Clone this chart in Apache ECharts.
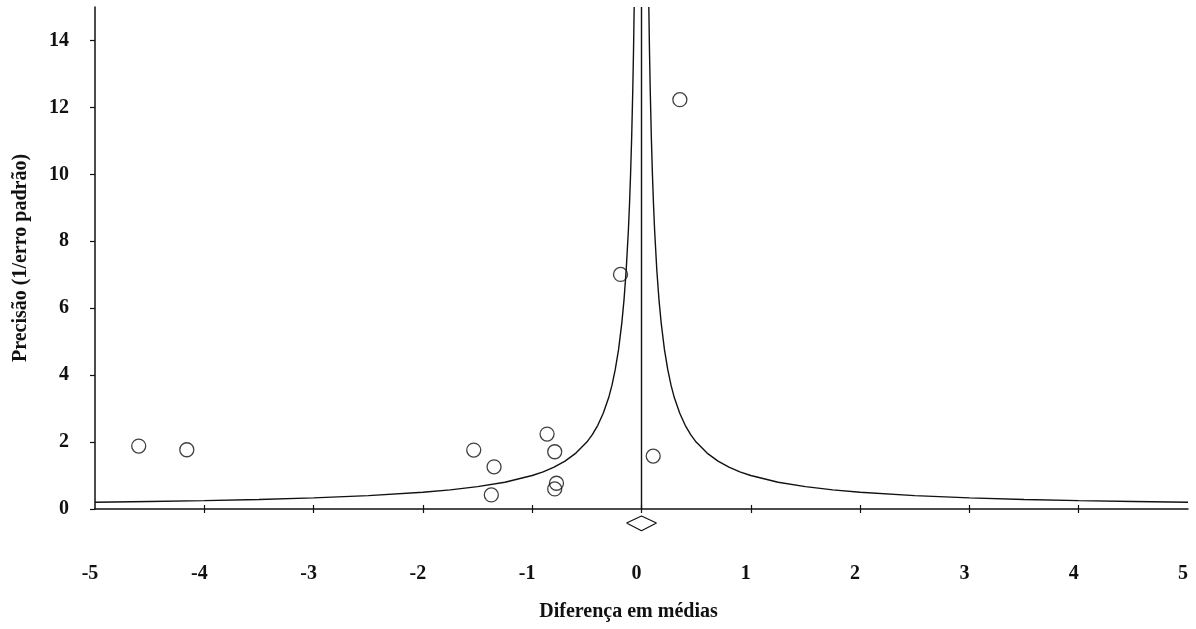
<!DOCTYPE html>
<html>
<head>
<meta charset="utf-8">
<script src="https://cdn.jsdelivr.net/npm/echarts@6/dist/echarts.min.js"></script>
<style>
html,body{margin:0;padding:0;background:#fff;}
#chart{width:1196px;height:629px;}
</style>
</head>
<body>
<div id="chart"></div>
<script>
// ---- data ----
const xTickValues = [-5, -4, -3, -2, -1, 0, 1, 2, 3, 4, 5];
const xInnerTicks = [-4, -3, -2, -1, 0, 1, 2, 3, 4];
const yTickValues = [0, 2, 4, 6, 8, 10, 12, 14];

// studies: difference in means and precision (1/standard error)
const studyDiff = [-4.60, -4.16, -1.535, -1.349, -1.374, -0.864, -0.794, -0.778, -0.794, 0.107, -0.192, 0.351];
const studyPrecision = [1.88, 1.77, 1.76, 1.26, 0.42, 2.24, 1.71, 0.77, 0.60, 1.58, 7.01, 12.23];

// overall effect
const meanDiff = 0.0;
const meanLineY = [0, 15];
const diamondX = [-0.137, 0.0, 0.137, 0.0, -0.137];
const diamondY = [-0.42, -0.21, -0.42, -0.65, -0.42];

// funnel limits
const funnelLeftX = [-5, -4.5, -4, -3.5, -3, -2.5, -2, -1.75, -1.5, -1.25, -1, -0.9, -0.8, -0.7, -0.6, -0.5, -0.45, -0.4, -0.35, -0.3, -0.27, -0.24, -0.21, -0.18, -0.16, -0.14, -0.12, -0.11, -0.1, -0.09, -0.08, -0.073, -0.067];
const funnelLeftY = [0.2, 0.222, 0.25, 0.286, 0.333, 0.4, 0.5, 0.571, 0.667, 0.8, 1.0, 1.11, 1.25, 1.43, 1.67, 2.0, 2.22, 2.5, 2.86, 3.33, 3.7, 4.17, 4.76, 5.56, 6.25, 7.14, 8.33, 9.09, 10.0, 11.1, 12.5, 13.7, 15.0];
const funnelRightX = [0.067, 0.073, 0.08, 0.09, 0.1, 0.11, 0.12, 0.14, 0.16, 0.18, 0.21, 0.24, 0.27, 0.3, 0.35, 0.4, 0.45, 0.5, 0.6, 0.7, 0.8, 0.9, 1, 1.25, 1.5, 1.75, 2, 2.5, 3, 3.5, 4, 4.5, 5];
const funnelRightY = [15.0, 13.7, 12.5, 11.1, 10.0, 9.09, 8.33, 7.14, 6.25, 5.56, 4.76, 4.17, 3.7, 3.33, 2.86, 2.5, 2.22, 2.0, 1.67, 1.43, 1.25, 1.11, 1.0, 0.8, 0.667, 0.571, 0.5, 0.4, 0.333, 0.286, 0.25, 0.222, 0.2];

const xTitle = 'Diferença em médias';
const yTitle = 'Precisão (1/erro padrão)';

// ---- build ----
const zip = (a, b) => a.map((v, i) => [v, b[i]]);
const FONT = '"Liberation Serif", "Times New Roman", serif';
const INK = '#111';

const chart = echarts.init(document.getElementById('chart'), null, {renderer: 'canvas'});
chart.setOption({
  animation: false,
  backgroundColor: '#fff',
  grid: {left: 95, right: 8, top: 7, bottom: 120, containLabel: false},
  xAxis: [{
    type: 'value', min: -5, max: 5, interval: 1,
    position: 'bottom',
    axisLine: {show: true, onZero: false, lineStyle: {color: INK, width: 1.5}},
    axisTick: {show: true, inside: false, length: 4, customValues: xInnerTicks, lineStyle: {color: INK, width: 1.2}},
    axisLabel: {show: true, customValues: xTickValues, margin: 55, padding: [0, 10, 0, 0],
      fontFamily: FONT, fontWeight: 'bold', fontSize: 20, color: INK},
    splitLine: {show: false},
    name: xTitle, nameLocation: 'middle', nameGap: 93,
    nameTextStyle: {fontFamily: FONT, fontWeight: 'bold', fontSize: 20, color: INK, padding: [0, 26, 0, 0]}
  }, {
    type: 'value', min: -5, max: 5, interval: 1,
    position: 'bottom',
    axisLine: {show: false},
    axisTick: {show: true, inside: true, length: 4, customValues: xInnerTicks, lineStyle: {color: INK, width: 1.2}},
    axisLabel: {show: false},
    splitLine: {show: false}
  }],
  yAxis: {
    type: 'value', min: 0, max: 15, interval: 1,
    axisLine: {show: true, onZero: false, lineStyle: {color: INK, width: 1.5}},
    axisTick: {show: true, inside: false, length: 5, customValues: yTickValues, lineStyle: {color: INK, width: 1.2}},
    axisLabel: {show: true, customValues: yTickValues, margin: 26, padding: [12, 0, 0, 0],
      fontFamily: FONT, fontWeight: 'bold', fontSize: 20, color: INK},
    splitLine: {show: false},
    name: yTitle, nameLocation: 'middle', nameGap: 64, nameRotate: 90,
    nameTextStyle: {fontFamily: FONT, fontWeight: 'bold', fontSize: 20, color: INK}
  },
  series: [
    {type: 'line', name: 'funnel-left', data: zip(funnelLeftX, funnelLeftY), showSymbol: false, symbol: 'none',
      smooth: false, clip: true, lineStyle: {color: INK, width: 1.4}, silent: true},
    {type: 'line', name: 'funnel-right', data: zip(funnelRightX, funnelRightY), showSymbol: false, symbol: 'none',
      smooth: false, clip: true, lineStyle: {color: INK, width: 1.4}, silent: true},
    {type: 'line', name: 'mean', data: meanLineY.map(y => [meanDiff, y]), showSymbol: false, symbol: 'none',
      lineStyle: {color: INK, width: 1.4}, silent: true},
    {type: 'line', name: 'diamond', data: zip(diamondX, diamondY), showSymbol: false, symbol: 'none',
      clip: false, lineStyle: {color: INK, width: 1.2}, silent: true},
    {type: 'scatter', name: 'studies', data: zip(studyDiff, studyPrecision), symbol: 'circle', symbolSize: 14,
      itemStyle: {color: 'rgba(255,255,255,0)', borderColor: INK, borderWidth: 1.3}}
  ]
});
</script>
</body>
</html>
